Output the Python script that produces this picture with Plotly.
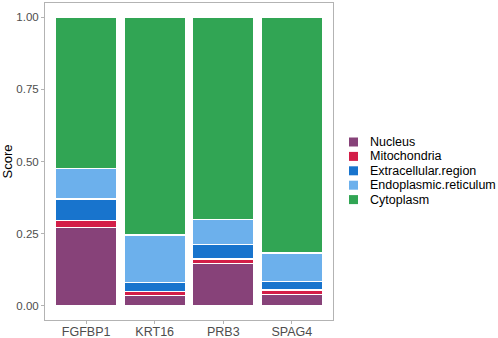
import plotly.graph_objects as go

genes = ["FGFBP1", "KRT16", "PRB3", "SPAG4"]
locations = ["Nucleus", "Mitochondria", "Extracellular.region", "Endoplasmic.reticulum", "Cytoplasm"]
colors = ["#874279", "#D31E48", "#1874CD", "#6CB0EC", "#31A554"]

nucleus = [0.272, 0.035, 0.145, 0.038]
mitochondria = [0.024, 0.013, 0.017, 0.016]
extracellular = [0.074, 0.033, 0.049, 0.029]
endoplasmic = [0.105, 0.164, 0.087, 0.100]
cytoplasm = [0.525, 0.755, 0.702, 0.817]

series = [nucleus, mitochondria, extracellular, endoplasmic, cytoplasm]
yticks = [0, 0.25, 0.5, 0.75, 1.0]

fig = go.Figure()
for name, vals, col in zip(locations, series, colors):
    fig.add_trace(go.Bar(
        x=genes, y=vals, name=name, marker=dict(color=col, line=dict(color="white", width=1.3)),
        width=0.9, showlegend=False,
    ))

fig.update_layout(
    barmode="stack",
    width=498, height=338,
    margin=dict(l=45, r=165, t=3, b=18, pad=0),
    paper_bgcolor="white", plot_bgcolor="white",
    font=dict(family="Liberation Sans, Arial, sans-serif", size=12, color="#4D4D4D"),
    showlegend=False,
)
fig.update_xaxes(
    range=[-0.6, 3.6], showline=True, mirror=True, linecolor="#B3B3B3", linewidth=1,
    ticks="outside", ticklen=3, tickcolor="#B3B3B3", showgrid=False, zeroline=False,
    tickfont=dict(size=12.5, color="#4D4D4D"), automargin=False, ticklabelstandoff=-3,
)
fig.update_yaxes(
    range=[-0.05, 1.05], showline=True, mirror=True, linecolor="#B3B3B3", linewidth=1,
    ticks="outside", ticklen=3, tickcolor="#B3B3B3", showgrid=False, zeroline=False,
    tickvals=yticks, tickformat=".2f", tickfont=dict(size=11.5, color="#4D4D4D"),
    title=dict(text="Score", font=dict(size=13, color="black"), standoff=4),
    automargin=False,
)

# legend (drawn manually to match ggplot key spacing)
top_px = 142.0
step_px = 14.4
plot_h = 338 - 3 - 18
for i, (name, col) in enumerate(zip(locations, colors)):
    yc = (338 - 18 - (top_px + i * step_px)) / plot_h
    fig.add_shape(type="rect", xref="paper", yref="paper",
                  xsizemode="pixel", ysizemode="pixel",
                  xanchor=(353.5 - 45) / 288, yanchor=yc,
                  x0=-4.5, x1=4.5, y0=-4.5, y1=4.5,
                  fillcolor=col, line=dict(width=0))
    fig.add_annotation(xref="paper", yref="paper", x=(368 - 45) / 288, y=yc,
                       xanchor="left", yanchor="middle", showarrow=False,
                       text=name, font=dict(size=12.5, color="black"))

fig.write_html("out.html", config={"displayModeBar": False},
               post_script="document.body.style.margin='0';document.body.style.overflow='hidden';")
